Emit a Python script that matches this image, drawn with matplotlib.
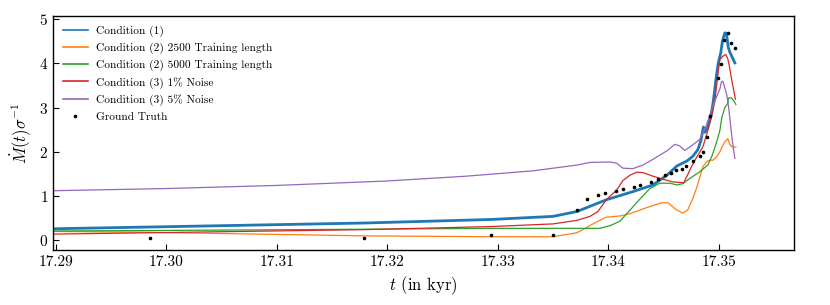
import matplotlib
matplotlib.use("Agg")
import matplotlib.pyplot as plt
from matplotlib.ticker import MultipleLocator, FormatStrFormatter

plt.rcParams['font.family'] = 'serif'
plt.rcParams['font.serif'] = ['cmr10', 'DejaVu Serif']
plt.rcParams['mathtext.fontset'] = 'cm'
plt.rcParams['axes.unicode_minus'] = False
plt.rcParams['axes.formatter.use_mathtext'] = True

# ---- data ----
gt_t = [17.2985, 17.3179, 17.3294, 17.3350, 17.3372, 17.3381, 17.3391, 17.3397,
        17.3407, 17.3413, 17.3423, 17.3429, 17.3439, 17.3445, 17.3451, 17.3457,
        17.3461, 17.3467, 17.3470, 17.3477, 17.3483, 17.3486, 17.3489, 17.3492,
        17.3499, 17.3502, 17.3505, 17.3508, 17.3511, 17.3515]
gt_y = [0.05, 0.05, 0.13, 0.12, 0.69, 0.93, 1.02, 1.07,
        1.11, 1.16, 1.20, 1.25, 1.32, 1.39, 1.47, 1.53,
        1.59, 1.62, 1.69, 1.79, 1.90, 2.00, 2.33, 2.80,
        3.66, 3.99, 4.52, 4.69, 4.46, 4.34]

c1_t = [17.28973, 17.29851, 17.31787, 17.32937, 17.33498, 17.33715, 17.33986,
        17.34222, 17.34403, 17.34529, 17.34620, 17.34710, 17.34765, 17.34810,
        17.34837, 17.34860, 17.34873, 17.34900, 17.34928, 17.34950, 17.34977,
        17.34995, 17.35018, 17.35032, 17.35054, 17.35068, 17.35086, 17.35100,
        17.35145]
c1_y = [0.26, 0.30, 0.39, 0.47, 0.54, 0.65, 0.92,
        1.10, 1.25, 1.47, 1.68, 1.79, 1.90, 2.05,
        2.25, 2.56, 2.44, 2.56, 2.80, 3.15, 3.70,
        4.01, 4.25, 4.50, 4.69, 4.68, 4.35, 4.25,
        4.01]

c2a_t = [17.28973, 17.29851, 17.31787, 17.32937, 17.33498, 17.33715, 17.33769,
         17.33860, 17.33977, 17.34104, 17.34195, 17.34348, 17.34484, 17.34538,
         17.34611, 17.34674, 17.34719, 17.34765, 17.34801, 17.34828, 17.34855,
         17.34891, 17.34919, 17.34946, 17.34977, 17.35009, 17.35027, 17.35054,
         17.35081, 17.35100, 17.35127, 17.35154]
c2a_y = [0.20, 0.18, 0.10, 0.08, 0.08, 0.17, 0.24,
         0.37, 0.52, 0.55, 0.60, 0.74, 0.85, 0.85,
         0.70, 0.61, 0.69, 0.95, 1.20, 1.43, 1.66,
         1.78, 1.81, 1.81, 1.88, 2.00, 2.10, 2.22,
         2.30, 2.16, 2.10, 2.11]

c2b_t = [17.28973, 17.29851, 17.31787, 17.32937, 17.33498, 17.33923, 17.34014,
         17.34104, 17.34195, 17.34285, 17.34376, 17.34466, 17.34557, 17.34620,
         17.34674, 17.34738, 17.34828, 17.34900, 17.34937, 17.34977, 17.35009,
         17.35027, 17.35054, 17.35077, 17.35090, 17.35113, 17.35136, 17.35154]
c2b_y = [0.21, 0.22, 0.25, 0.27, 0.27, 0.27, 0.33,
         0.43, 0.68, 0.93, 1.17, 1.29, 1.29, 1.25,
         1.28, 1.40, 1.55, 1.70, 1.90, 2.20, 2.48,
         2.78, 3.00, 3.08, 3.22, 3.22, 3.15, 3.07]

c3a_t = [17.28973, 17.29851, 17.31787, 17.32937, 17.33498, 17.33715, 17.33833,
         17.33905, 17.33986, 17.34077, 17.34131, 17.34195, 17.34258, 17.34312,
         17.34403, 17.34493, 17.34584, 17.34683, 17.34738, 17.34783, 17.34855,
         17.34900, 17.34946, 17.34964, 17.34991, 17.35009, 17.35036, 17.35063,
         17.35081, 17.35095, 17.35118, 17.35150]
c3a_y = [0.14, 0.17, 0.24, 0.31, 0.37, 0.45, 0.54,
         0.65, 0.93, 1.14, 1.35, 1.47, 1.54, 1.53,
         1.45, 1.38, 1.32, 1.30, 1.59, 1.81, 2.11,
         2.48, 2.93, 3.15, 3.75, 4.09, 4.16, 4.20,
         4.10, 3.94, 3.60, 3.19]

c3b_t = [17.28973, 17.30004, 17.31000, 17.31995, 17.32719, 17.33317, 17.33715,
         17.33833, 17.34014, 17.34077, 17.34131, 17.34222, 17.34312, 17.34403,
         17.34529, 17.34602, 17.34647, 17.34692, 17.34765, 17.34828, 17.34887,
         17.34937, 17.34977, 17.35009, 17.35023, 17.35036, 17.35054, 17.35072,
         17.35084, 17.35100, 17.35115, 17.35130, 17.35145]
c3b_y = [1.12, 1.17, 1.24, 1.34, 1.45, 1.57, 1.70,
         1.76, 1.77, 1.74, 1.63, 1.62, 1.70, 1.83,
         2.02, 2.17, 2.13, 2.03, 2.16, 2.28, 2.60,
         2.98, 3.23, 3.42, 3.58, 3.60, 3.45, 3.28,
         3.10, 2.75, 2.40, 2.10, 1.85]

labels = ["Condition (1)", "Condition (2) 2500 Training length",
          "Condition (2) 5000 Training length", "Condition (3) 1% Noise",
          "Condition (3) 5% Noise", "Ground Truth"]

# ---- plot ----
fig = plt.figure(figsize=(8.3, 3.05), dpi=100)
ax = fig.add_axes([0.0639, 0.1803, 0.8927, 0.7672])

ax.plot(c1_t, c1_y, color='#1f77b4', lw=2.0, label=labels[0])
ax.plot(c2a_t, c2a_y, color='#ff7f0e', lw=0.9, label=labels[1])
ax.plot(c2b_t, c2b_y, color='#2ca02c', lw=0.9, label=labels[2])
ax.plot(c3a_t, c3a_y, color='#d62728', lw=0.9, label=labels[3])
ax.plot(c3b_t, c3b_y, color='#9467bd', lw=0.9, label=labels[4])
ax.plot(gt_t, gt_y, linestyle='none', marker='o', ms=1.6, color='black',
        label=labels[5])

ax.set_xlim(17.28973, 17.3568)
ax.set_ylim(-0.22, 5.07)
ax.xaxis.set_major_locator(MultipleLocator(0.01))
ax.xaxis.set_major_formatter(FormatStrFormatter('%.2f'))
ax.yaxis.set_major_locator(MultipleLocator(1))
ax.tick_params(direction='in', labelsize=11, length=4, width=0.8)
for s in ax.spines.values():
    s.set_linewidth(1.0)

ax.set_xlabel(r'$t$ (in kyr)', fontsize=12, labelpad=4)
ax.set_ylabel(r'$\dot{M}(t)\sigma^{-1}$', fontsize=12, labelpad=4)

leg = ax.legend(loc='upper left', frameon=False, fontsize=8.2,
                handlelength=2.2, handletextpad=0.7, labelspacing=0.5,
                borderaxespad=0.45, markerscale=1.0)
for lh in leg.get_lines()[:5]:
    lh.set_linewidth(1.2)

fig.savefig('out.png', dpi=100)
